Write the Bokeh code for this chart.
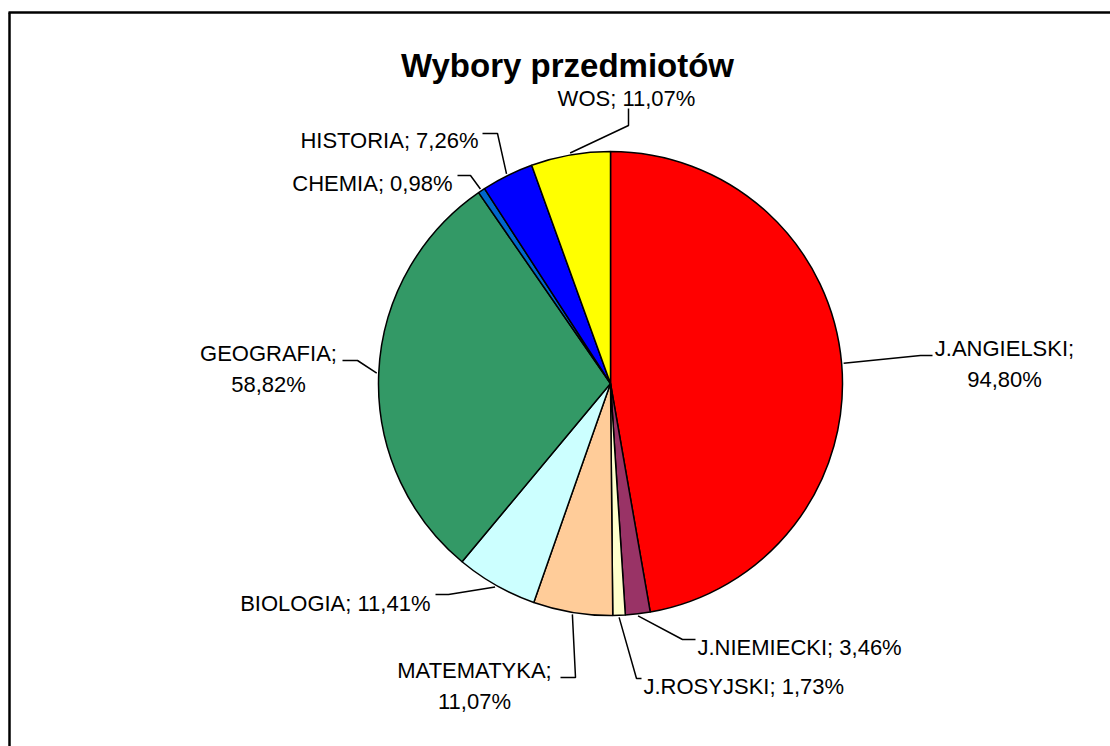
import math
from bokeh.plotting import figure
from bokeh.models import Range1d, ColumnDataSource
from bokeh.core.properties import value
from bokeh.embed import file_html
from bokeh.resources import INLINE

# ---------------- data ----------------
title = "Wybory przedmiotów"
categories = ["J.ANGIELSKI", "J.NIEMIECKI", "J.ROSYJSKI", "MATEMATYKA", "BIOLOGIA",
              "GEOGRAFIA", "CHEMIA", "HISTORIA", "WOS"]
values = [94.80, 3.46, 1.73, 11.07, 11.41, 58.82, 0.98, 7.26, 11.07]
colors = ["#FF0000", "#993366", "#FFFFCC", "#FFCC99", "#CCFFFF",
          "#339966", "#0066CC", "#0000FF", "#FFFF00"]

# ---------------- layout ----------------
W, H = 1110, 746
def Y(py):
    return H - py

CX, CY, R = 610, 383, 232
FONT = "Liberation Sans"
LABEL_SIZE = "22px"
PITCH = 31

# label layout: text position (page px), alignment, two-line?, leader elbow points
label_layout = {
    "J.ANGIELSKI": dict(x=1004, y=348, align="center", two=True, pts=[(932, 355), (920, 355)]),
    "J.NIEMIECKI": dict(x=697, y=647, align="left", two=False, pts=[(695, 639), (682, 639)]),
    "J.ROSYJSKI": dict(x=643, y=686, align="left", two=False, pts=[(641, 678), (636, 678)]),
    "MATEMATYKA": dict(x=474, y=670, align="center", two=True, pts=[(560, 677), (575, 677)]),
    "BIOLOGIA": dict(x=430, y=603, align="right", two=False, pts=[(435, 594), (448, 594)]),
    "GEOGRAFIA": dict(x=268, y=353, align="center", two=True, pts=[(342, 360), (357, 360)]),
    "CHEMIA": dict(x=452, y=183, align="right", two=False, pts=[(457, 175), (470, 175)]),
    "HISTORIA": dict(x=478, y=140, align="right", two=False, pts=[(482, 133), (497, 133)]),
    "WOS": dict(x=626, y=98, align="center", two=False, pts=[(628, 108), (628, 125)]),
}

# ---------------- figure ----------------
p = figure(width=W, height=H, x_range=Range1d(0, W), y_range=Range1d(0, H),
           x_axis_type=None, y_axis_type=None, toolbar_location=None,
           output_backend="svg", min_border=0)
p.grid.visible = False
p.outline_line_color = None
p.background_fill_color = "white"
p.border_fill_color = "white"

# frame (only left and top edges are visible in the reference)
p.segment(x0=[9, 8], y0=[Y(12), Y(12)], x1=[9, W + 20], y1=[-20, Y(12)],
          line_color="black", line_width=2.5)

total = sum(values)
starts, ends, mids = [], [], []
cum = 0.0
for v in values:
    f0 = cum / total
    cum += v
    f1 = cum / total
    starts.append(math.pi / 2 - 2 * math.pi * f1)
    ends.append(math.pi / 2 - 2 * math.pi * f0)
    mids.append((f0 + f1) / 2)

src = ColumnDataSource(dict(start=starts, end=ends, color=colors, cat=categories, val=values))
p.wedge(x=CX, y=Y(CY), radius=R, radius_units="screen", start_angle="start", end_angle="end",
        fill_color="color", line_color="black", line_width=1.5, source=src)

# leaders and labels
xs, ys = [], []
tx, ty, tt, ta = [], [], [], []
for cat, v, m in zip(categories, values, mids):
    lay = label_layout[cat]
    ang = 2 * math.pi * m
    ex = CX + (R + 2) * math.sin(ang)
    ey = CY - (R + 2) * math.cos(ang)
    pts = lay["pts"] + [(ex, ey)]
    xs.append([q[0] for q in pts])
    ys.append([Y(q[1]) for q in pts])
    pct = f"{v:.2f}%".replace(".", ",")
    lines = [f"{cat};", pct] if lay["two"] else [f"{cat}; {pct}"]
    for i, ln in enumerate(lines):
        tx.append(lay["x"])
        ty.append(Y(lay["y"] + i * PITCH))
        tt.append(ln)
        ta.append(lay["align"])

p.multi_line(xs=xs, ys=ys, line_color="black", line_width=1.5)
p.text(x=tx, y=ty, text=tt, text_align=ta, text_baseline="alphabetic",
       text_font=value(FONT), text_font_size=LABEL_SIZE, text_color="black")

# title
p.text(x=[567], y=[Y(65)], text=[title], text_align="center", text_baseline="alphabetic",
       text_font=value(FONT), text_font_size="33px", text_font_style="bold", text_color="black")

open("out.html", "w").write(file_html(p, INLINE))
